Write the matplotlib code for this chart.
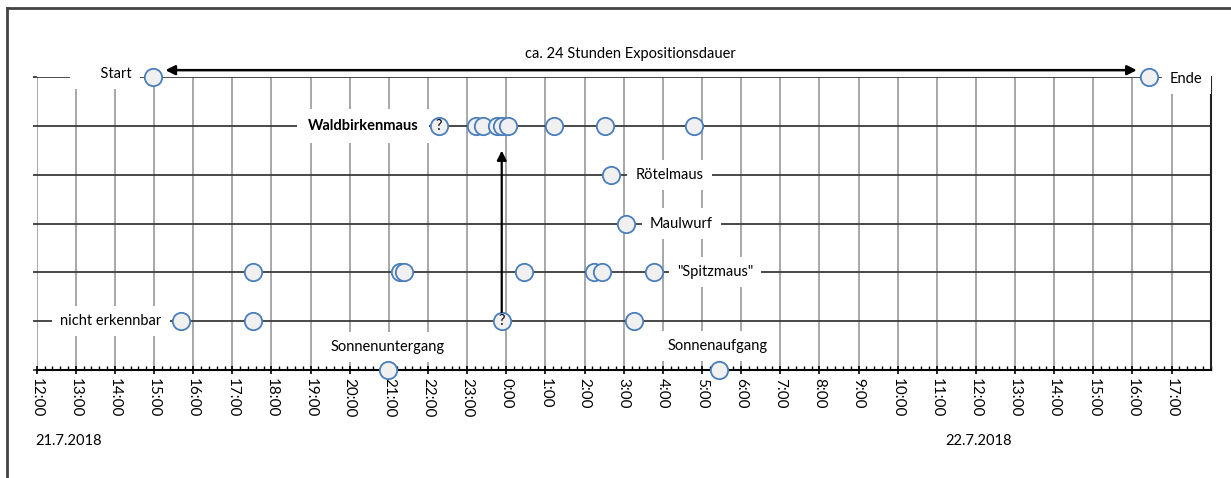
import numpy as np
import matplotlib
matplotlib.use("Agg")
import matplotlib.pyplot as plt
from matplotlib.ticker import MultipleLocator, FixedLocator, FuncFormatter

plt.rcParams['font.family'] = ['Lato', 'DejaVu Sans']

# Zeiten als "Tag HH:MM" (Tag 0 = 21.7.2018, Tag 1 = 22.7.2018)
start_zeit = "0 14:58"
ende_zeit = "1 16:26"

waldbirkenmaus = ["0 23:13", "0 23:24", "0 23:45", "0 23:53", "1 0:03",
                  "1 1:13", "1 2:32", "1 4:48"]
waldbirkenmaus_unsicher = ["0 22:17"]
roetelmaus = ["1 2:41"]
maulwurf = ["1 3:04"]
spitzmaus = ["0 17:31", "0 21:17", "0 21:23", "1 0:27", "1 2:14",
             "1 2:26", "1 3:47"]
nicht_erkennbar = ["0 15:42", "0 17:32", "1 3:16"]
nicht_erkennbar_unsicher = ["0 23:53"]
sonnenuntergang = "0 20:58"
sonnenaufgang = "1 5:26"

zeilen = {"Start": 6, "Waldbirkenmaus": 5, "Rötelmaus": 4, "Maulwurf": 3,
          "Spitzmaus": 2, "nicht erkennbar": 1, "Sonne": 0}


def stunden(t):
    # Stunden seit 21.7.2018 0:00
    tag, hm = t.split()
    h, m = hm.split(":")
    return int(tag) * 24 + int(h) + int(m) / 60.0


def h(liste):
    return np.array([stunden(t) for t in liste])


W, H = 1231, 478
fig = plt.figure(figsize=(W / 100, H / 100), dpi=100)
ax = fig.add_axes([36.7 / W, 1 - 370 / H, (1210.7 - 36.7) / W, (370 - 77) / H])
ax.set_xlim(12, 42)
ax.set_ylim(0, 6)

# Gitter
ax.xaxis.set_major_locator(FixedLocator(np.arange(12, 42)))
ax.xaxis.set_minor_locator(MultipleLocator(0.2))
ax.yaxis.set_major_locator(MultipleLocator(1))
ax.grid(axis='x', which='major', color='#a0a0a0', lw=1.3, zorder=0)
ax.grid(axis='y', which='major', color='#3a3a3a', lw=1.3, zorder=0)
ax.set_axisbelow(True)
ax.xaxis.set_major_formatter(FuncFormatter(lambda v, p: f"{int(round(v)) % 24}:00"))
ax.tick_params(axis='x', which='major', direction='inout', length=6, width=1.2,
               color='black', labelrotation=270, labelsize=11, pad=3)
ax.tick_params(axis='x', which='minor', direction='in', length=3, width=1.0, color='black')
ax.tick_params(axis='y', which='major', direction='out', length=3, width=1.3,
               color='#3a3a3a', labelleft=False)
for lab in ax.get_xticklabels():
    lab.set_va('top')
for s in ['top', 'left']:
    ax.spines[s].set_visible(False)
ax.spines['bottom'].set_linewidth(1.5)
ax.spines['right'].set_linewidth(1.5)
ax.spines['right'].set_color('#222222')

mk = dict(marker='o', ms=12.5, mfc='#f0f0f0', mec='#4a7ebb', mew=1.3,
          ls='none', zorder=4, clip_on=False)

ax.plot(h([start_zeit, ende_zeit]), [zeilen["Start"]] * 2, **mk)
ax.plot(h(waldbirkenmaus), np.full(len(waldbirkenmaus), zeilen["Waldbirkenmaus"]), **mk)
ax.plot(h(roetelmaus), [zeilen["Rötelmaus"]], **mk)
ax.plot(h(maulwurf), [zeilen["Maulwurf"]], **mk)
ax.plot(h(spitzmaus), np.full(len(spitzmaus), zeilen["Spitzmaus"]), **mk)
ax.plot(h(nicht_erkennbar), np.full(len(nicht_erkennbar), zeilen["nicht erkennbar"]), **mk)
ax.plot(h([sonnenuntergang, sonnenaufgang]), [zeilen["Sonne"]] * 2, **mk)

# unsichere Bestimmungen mit "?"
for liste, zeile in [(waldbirkenmaus_unsicher, zeilen["Waldbirkenmaus"]),
                     (nicht_erkennbar_unsicher, zeilen["nicht erkennbar"])]:
    ax.plot(h(liste), np.full(len(liste), zeile), **mk)
    for x in h(liste):
        ax.text(x, zeile, "?", ha='center', va='center', fontsize=10.5, zorder=5)

# Beschriftungen mit weissem Hintergrund
box = dict(facecolor='white', edgecolor='none', boxstyle='square,pad=0.55')
fs = 10.5
ax.text(13.75, 6.07, "      Start", ha='center', va='center', fontsize=fs, bbox=box, zorder=3)
ax.text(41.38, 5.95, "Ende", ha='center', va='center', fontsize=fs, bbox=box, zorder=3,
        clip_on=False)
ax.text(20.34, 5, "Waldbirkenmaus", ha='center', va='center', fontsize=fs,
        fontweight='bold', bbox=dict(box, boxstyle='square,pad=0.7'), zorder=3)
ax.text(28.17, 4, "Rötelmaus", ha='center', va='center', fontsize=fs, bbox=box, zorder=3)
ax.text(28.48, 3, "Maulwurf", ha='center', va='center', fontsize=fs, bbox=box, zorder=3)
ax.text(29.33, 2, "\"Spitzmaus\"", ha='center', va='center', fontsize=fs, bbox=box, zorder=3)
ax.text(13.90, 1, "nicht erkennbar", ha='center', va='center', fontsize=fs, bbox=box, zorder=3)
ax.text(stunden(sonnenuntergang), 0.47, "Sonnenuntergang", ha='center', va='center',
        fontsize=fs, bbox=box, zorder=3)
ax.text(29.41, 0.49, "Sonnenaufgang", ha='center', va='center', fontsize=fs, bbox=box, zorder=3)

# Expositionsdauer
ax.annotate("", xy=(stunden(start_zeit) + 0.25, 6.14), xytext=(stunden(ende_zeit) - 0.25, 6.14),
            arrowprops=dict(arrowstyle='<|-|>', color='black', lw=1.8, mutation_scale=14),
            annotation_clip=False, zorder=5)
ax.text(27.16, 6.47, "ca. 24 Stunden Expositionsdauer", ha='center', va='center',
        fontsize=fs, clip_on=False)

# Pfeil vom "?" zur Waldbirkenmaus
xq = h(nicht_erkennbar_unsicher)[0]
ax.annotate("", xy=(xq, 4.55), xytext=(xq, 1.13),
            arrowprops=dict(arrowstyle='-|>', color='black', lw=1.6, mutation_scale=14),
            zorder=5)

# Datum
fig.text(35 / W, 1 - 441 / H, "21.7.2018", ha='left', va='center', fontsize=fs)
fig.text(945 / W, 1 - 441 / H, "22.7.2018", ha='left', va='center', fontsize=fs)

# Rahmen
fig.add_artist(plt.Line2D([7 / W, 1], [1 - 8 / H, 1 - 8 / H], color='#444444', lw=2))
fig.add_artist(plt.Line2D([7 / W, 7 / W], [1 - 8 / H, 0], color='#444444', lw=2))

fig.savefig("out.png", dpi=100)
